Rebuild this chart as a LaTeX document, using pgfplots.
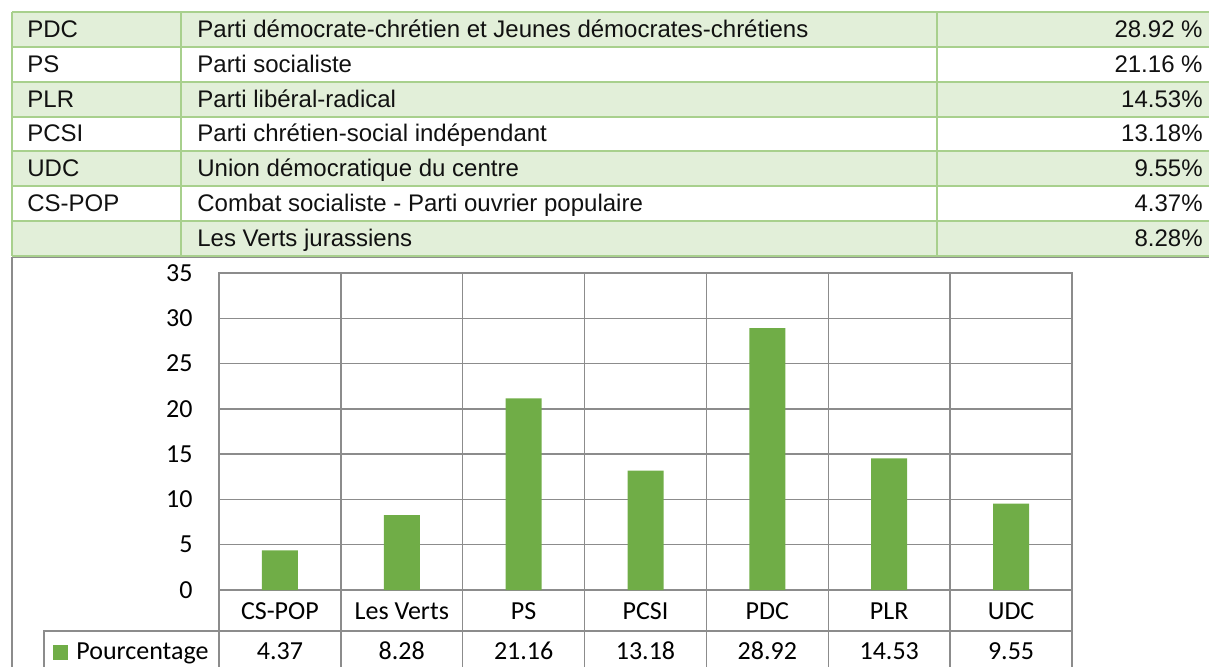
\documentclass[border=0pt]{standalone}
\usepackage{fontspec}
\setmainfont{Liberation Sans}
\newfontfamily\calfont{Carlito}
\usepackage{pgfplots}
\pgfplotsset{compat=1.18}
\definecolor{tabfill}{HTML}{E2EFD9}
\definecolor{tabline}{HTML}{A8D08D}
\definecolor{gridg}{HTML}{8C8C8C}
\definecolor{barg}{HTML}{70AD47}
\definecolor{txt}{HTML}{111111}
\begin{document}
\begin{tikzpicture}
\useasboundingbox (0,0) rectangle (604.5pt,333pt);
\begin{scope}[x=0.5pt,y=-0.5pt,shift={(0,333pt)}]
  % ---- top table ----
  \foreach \r in {0,2,4,6}
    \fill[tabfill] (12,{12+\r*34.857}) rectangle (1215,{12+(\r+1)*34.857});
  \foreach \r in {0,...,7}
    \draw[tabline,line width=1pt] (12,{12+\r*34.857}) -- (1215,{12+\r*34.857});
  \draw[tabline,line width=1pt] (12,12) -- (12,256) (181,12) -- (181,256) (937,12) -- (937,256);
  \foreach \a/\b/\c [count=\i from 0] in {
      PDC/Parti démocrate-chrétien et Jeunes démocrates-chrétiens/28.92 \%,
      PS/Parti socialiste/21.16 \%,
      PLR/Parti libéral-radical/14.53\%,
      PCSI/Parti chrétien-social indépendant/13.18\%,
      UDC/Union démocratique du centre/9.55\%,
      CS-POP/Combat socialiste - Parti ouvrier populaire/4.37\%,
      /Les Verts jurassiens/8.28\%}{
    \node[anchor=base west,inner sep=0pt,font=\fontsize{12}{14}\selectfont,text=txt] at (27,{12+\i*34.857+25.3}) {\a};
    \node[anchor=base west,inner sep=0pt,font=\fontsize{12}{14}\selectfont,text=txt] at (197,{12+\i*34.857+25.3}) {\b};
    \node[anchor=base east,inner sep=0pt,font=\fontsize{12}{14}\selectfont,text=txt] at (1203,{12+\i*34.857+25.3}) {\c};
  }
  % ---- chart frame ----
  \draw[gridg,line width=0.75pt] (1215,257.5) -- (12,257.5) -- (12,672);
  % ---- data table lines ----
  \draw[gridg,line width=0.75pt] (44,672) -- (44,631) -- (1072,631);
  \foreach \k in {0,...,7}
    \draw[gridg,line width=0.75pt] ({219+\k*121.857},590) -- ({219+\k*121.857},672);
  \fill[barg] (53,645) rectangle (68,660);
  \node[anchor=base west,inner sep=0pt,font=\calfont\fontsize{13}{15}\selectfont] at (76,659) {Pourcentage};
  \foreach \lab/\v [count=\k from 0] in {CS-POP/4.37,Les Verts/8.28,PS/21.16,PCSI/13.18,PDC/28.92,PLR/14.53,UDC/9.55}{
    \node[anchor=base,inner sep=0pt,font=\calfont\fontsize{13}{15}\selectfont] at ({219+(\k+0.5)*121.857},619) {\lab};
    \node[anchor=base,inner sep=0pt,font=\calfont\fontsize{13}{15}\selectfont] at ({219+(\k+0.5)*121.857},659) {\v};
  }
\end{scope}
\begin{axis}[
  at={(109.5pt,38pt)}, anchor=south west,
  scale only axis, width=426.5pt, height=158.5pt,
  xmin=-0.5, xmax=6.5, ymin=0, ymax=35,
  ytick={0,5,...,35}, xtick={0,...,6}, xticklabels={},
  minor xtick={0.5,1.5,...,5.5},
  xminorgrids, ymajorgrids,
  grid style={draw=gridg,line width=0.75pt},
  minor grid style={draw=gridg,line width=0.75pt},
  axis line style={draw=gridg,line width=0.75pt},
  major tick style={draw=none}, minor tick style={draw=none},
  /pgf/number format/assume math mode=true,
  yticklabel style={font=\calfont\fontsize{13}{15}\selectfont,anchor=east,inner sep=0pt,xshift=-13pt},
  clip=false,
]
\addplot[ybar,bar width=18pt,fill=barg,draw=none] coordinates {
  (0,4.37) (1,8.28) (2,21.16) (3,13.18) (4,28.92) (5,14.53) (6,9.55)};
\end{axis}
\end{tikzpicture}
\end{document}
